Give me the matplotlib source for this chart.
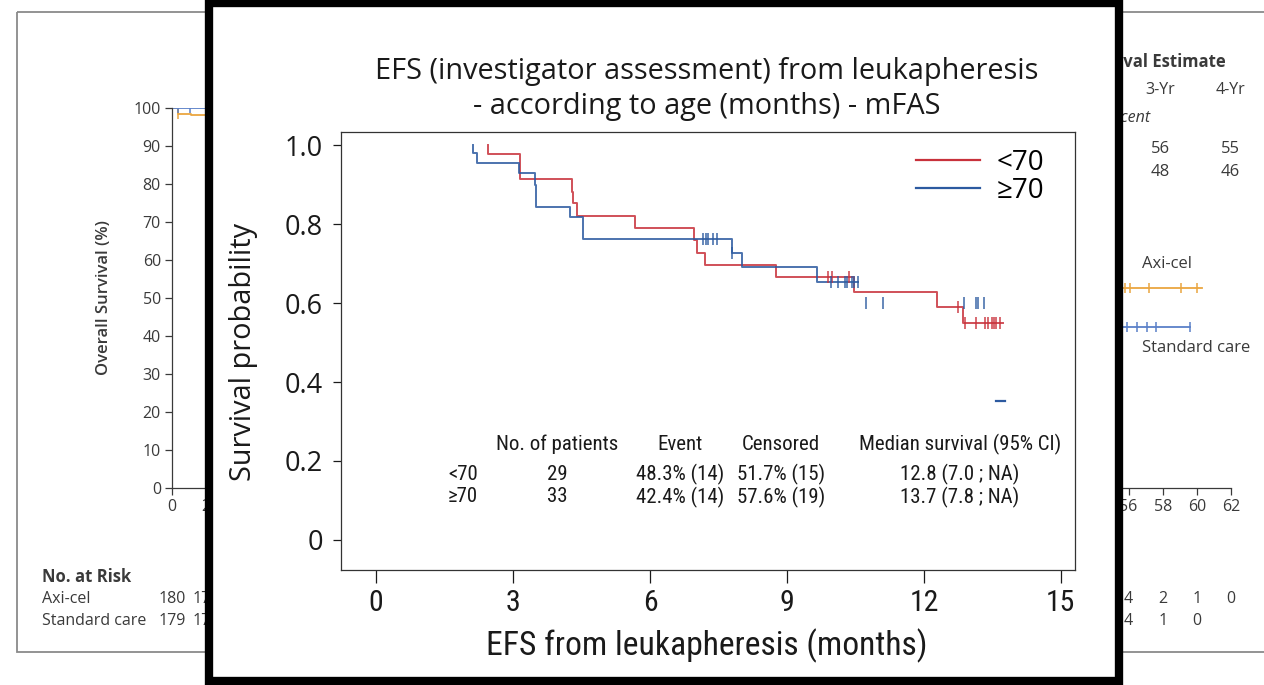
import matplotlib
matplotlib.use('Agg')
import matplotlib.pyplot as plt
import numpy as np
from matplotlib import font_manager as fm
from matplotlib.patches import Rectangle

W, H = 1264, 685

# background chart (overall survival, mostly hidden)
os_ticks_x = np.arange(0, 63, 2)
os_shown_x = [0, 2, 56, 58, 60, 62]
os_ticks_y = np.arange(0, 101, 10)
axi_t = [0, 0.35, 1.1, 6, 12, 18, 24, 30, 36, 42, 48, 54, 60.3]
axi_s = [100, 98.5, 98.2, 92, 82, 71, 63, 59, 56, 55, 54, 52.6, 52.6]
axi_cens = [0.35, 55.8, 56.1, 57.2, 59.1, 60.0]
soc_t = [0, 1.2, 6, 12, 18, 24, 30, 36, 42, 48, 54, 59.6]
soc_s = [100, 100, 90, 75, 62, 55, 50, 48, 47, 46, 42.4, 42.4]
soc_cens = [0.35, 1.05, 55.9, 56.5, 57.1, 57.6, 59.6]
risk_months = [0, 2, 56, 58, 60, 62]
risk_axi = ['180', '177', '4', '2', '1', '0']
risk_soc = ['179', '171', '4', '1', '0', '']
est_cols = ['3-Yr', '4-Yr']
est_axi = ['56', '55']
est_soc = ['48', '46']

# foreground chart (EFS by age)
red_t = [2.44, 2.44, 3.16, 4.28, 4.31, 4.41, 5.66, 6.96, 7.03, 7.20, 8.77, 10.47, 12.28, 12.86, 13.74]
red_s = [1.0, 0.977, 0.913, 0.882, 0.854, 0.821, 0.789, 0.759, 0.726, 0.696, 0.667, 0.629, 0.591, 0.550, 0.550]
red_cens = [9.90, 9.98, 10.36, 12.75, 12.90, 13.15, 13.33, 13.41, 13.50, 13.53, 13.57, 13.66]
blue_t = [2.12, 2.12, 2.20, 3.12, 3.47, 3.50, 4.25, 4.54, 7.79, 8.02, 9.65, 10.56]
blue_s = [1.0, 0.981, 0.954, 0.928, 0.899, 0.844, 0.817, 0.761, 0.726, 0.692, 0.654, 0.654]
blue_cens = [7.15, 7.22, 7.28, 7.39, 7.46, 7.80, 9.96, 10.12, 10.27, 10.31, 10.42, 10.47, 10.56]
blue_loose_t = [10.73, 11.10, 12.87, 13.15, 13.19, 13.32]
blue_loose_s = [0.599] * 6
blue_tail_t = [13.59, 13.77]
blue_tail_s = [0.352, 0.352]

groups = ['<70', '≥70']
table_cols = ['No. of patients', 'Event', 'Censored', 'Median survival (95% CI)']
table_rows = [['29', '48.3% (14)', '51.7% (15)', '12.8 (7.0 ; NA)'],
              ['33', '42.4% (14)', '57.6% (19)', '13.7 (7.8 ; NA)']]

RED = '#c8313b'
BLUE = '#2c5aa0'
ORANGE = '#eaa640'
SBLUE = '#5a80c8'


def narrow_font():
    for name in ['Liberation Sans Narrow', 'Roboto Condensed', 'Arial Narrow']:
        try:
            fm.findfont(fm.FontProperties(family=name), fallback_to_default=False)
            return name
        except ValueError:
            pass
    return 'Roboto'


NARROW = narrow_font()


def fx(x):
    return x / W


def fy(y):
    return 1 - y / H


def step_at(t, s, x):
    i = np.searchsorted(t, x, side='right') - 1
    return np.asarray(s)[i]


fig = plt.figure(figsize=(W / 100, H / 100), dpi=100)

# page with the background panel frame and texts
page = fig.add_axes([0, 0, 1, 1], zorder=0)
page.set_xlim(0, W)
page.set_ylim(H, 0)
page.axis('off')
page.add_patch(Rectangle((17, 12), 1300, 640, fill=False, ec='#8a8a8a', lw=1.3))
bg_font = dict(family='Open Sans', color='#3a3a3a')
page.text(104, 298, 'Overall Survival (%)', rotation=90, ha='center', va='center',
          fontsize=12, fontweight='semibold', **bg_font)
page.text(42, 577, 'No. at Risk', ha='left', va='center', fontsize=12, fontweight='bold', **bg_font)
page.text(42, 599, 'Axi-cel', ha='left', va='center', fontsize=11.5, **bg_font)
page.text(42, 621, 'Standard care', ha='left', va='center', fontsize=11.5, **bg_font)
for m, a, s in zip(risk_months, risk_axi, risk_soc):
    xp = 172 + m * 1059 / 62
    page.text(xp, 599, a, ha='center', va='center', fontsize=11.5, **bg_font)
    page.text(xp, 621, s, ha='center', va='center', fontsize=11.5, **bg_font)
page.text(1226, 62, 'Survival Estimate', ha='right', va='center', fontsize=12,
          fontweight='bold', **bg_font)
page.text(1150, 118, 'Percent', ha='right', va='center', fontsize=11.5, style='italic', **bg_font)
for xp, c, a, s in zip([1160, 1230], est_cols, est_axi, est_soc):
    page.text(xp, 90, c, ha='center', va='center', fontsize=11.5, **bg_font)
    page.text(xp, 149, a, ha='center', va='center', fontsize=12, **bg_font)
    page.text(xp, 172, s, ha='center', va='center', fontsize=12, **bg_font)
page.text(1142, 264, 'Axi-cel', ha='left', va='center', fontsize=12, **bg_font)
page.text(1142, 348, 'Standard care', ha='left', va='center', fontsize=12, **bg_font)

# background overall survival plot
bg = fig.add_axes([fx(172), fy(488), 1059 / W, 380 / H], zorder=0.5)
bg.patch.set_visible(False)
bg.step(axi_t, axi_s, where='post', color=ORANGE, lw=1.3)
bg.step(soc_t, soc_s, where='post', color=SBLUE, lw=1.3)
bg.plot(axi_cens, step_at(axi_t, axi_s, axi_cens), ls='none', marker='|', ms=7, mew=1.1, color=ORANGE)
bg.plot(soc_cens, step_at(soc_t, soc_s, soc_cens), ls='none', marker='|', ms=7, mew=1.1, color=SBLUE)
bg.set_xlim(0, 62)
bg.set_ylim(0, 100)
bg.set_xticks(os_ticks_x)
bg.set_xticklabels([str(t) if t in os_shown_x else '' for t in os_ticks_x])
bg.set_yticks(os_ticks_y)
bg.tick_params(direction='out', length=5, width=0.9, colors='#3a3a3a', labelsize=11.5, pad=3)
for lab in bg.get_xticklabels() + bg.get_yticklabels():
    lab.set_family('Open Sans')
for side in ['top', 'right']:
    bg.spines[side].set_visible(False)
for side in ['left', 'bottom']:
    bg.spines[side].set_color('#3a3a3a')
    bg.spines[side].set_linewidth(0.9)

# black-framed overlay box
box = fig.add_axes([0, 0, 1, 1], zorder=1)
box.set_xlim(0, W)
box.set_ylim(H, 0)
box.axis('off')
box.add_patch(Rectangle((209, 3), 910, 678, fc='white', ec='black', lw=6))
box.text(707, 71, 'EFS (investigator assessment) from leukapheresis', ha='center', va='center',
         fontsize=20.8, family='Open Sans', color='#1a1a1a')
box.text(707, 106, '- according to age (months) - mFAS', ha='center', va='center',
         fontsize=20.8, family='Open Sans', color='#1a1a1a')
box.text(243, 352, 'Survival probability', rotation=90, ha='center', va='center',
         fontsize=20.8, family='Open Sans', color='#1a1a1a')
box.text(707, 646, 'EFS from leukapheresis (months)', ha='center', va='center',
         fontsize=24.2, family=NARROW, color='#1a1a1a')

# foreground EFS plot
ax = fig.add_axes([fx(341), fy(570), 734 / W, 438 / H], zorder=2)
ax.step(red_t, red_s, where='post', color=RED, lw=1.4, alpha=0.85, label=groups[0])
ax.step(blue_t, blue_s, where='post', color=BLUE, lw=1.4, alpha=0.85, label=groups[1])
ax.plot(red_cens, step_at(red_t, red_s, red_cens), ls='none', marker='|', ms=8, mew=1.2, color=RED, alpha=0.85)
ax.plot(blue_cens, step_at(blue_t, blue_s, blue_cens), ls='none', marker='|', ms=8, mew=1.2, color=BLUE, alpha=0.85)
ax.plot(blue_loose_t, blue_loose_s, ls='none', marker='|', ms=8, mew=1.2, color=BLUE, alpha=0.85)
ax.plot(blue_tail_t, blue_tail_s, color=BLUE, lw=1.6)
ax.set_xlim(-0.77, 15.31)
ax.set_ylim(-0.076, 1.033)
ax.set_xticks([0, 3, 6, 9, 12, 15])
ax.set_yticks([0, 0.2, 0.4, 0.6, 0.8, 1.0])
ax.set_yticklabels(['0', '0.2', '0.4', '0.6', '0.8', '1.0'], family='Open Sans', fontsize=19.5)
ax.set_xticklabels(['0', '3', '6', '9', '12', '15'], family=NARROW, fontsize=21.5)
ax.tick_params(axis='y', direction='out', length=6, width=0.9, pad=7, colors='#1a1a1a')
ax.tick_params(axis='x', direction='out', length=9, width=0.9, pad=5, colors='#1a1a1a')
for side in ax.spines:
    ax.spines[side].set_color('#333333')
    ax.spines[side].set_linewidth(0.9)

leg = ax.legend(loc='upper left', bbox_to_anchor=(fx(916), fy(149)), bbox_transform=fig.transFigure,
                frameon=False, borderpad=0, borderaxespad=0, handlelength=2.3, handletextpad=0.6,
                labelspacing=0.0, prop={'family': 'Open Sans', 'size': 20})
for line in leg.get_lines():
    line.set_alpha(1)
    line.set_linewidth(1.6)

# summary table inside the plot
tfont = dict(family=NARROW, fontsize=15, color='#1a1a1a', transform=fig.transFigure)
col_x = [557, 680, 781, 960]
for cx, head in zip(col_x, table_cols):
    ax.text(fx(cx), fy(444), head, ha='center', va='center', **tfont)
for ry, g, row in zip([474, 497], groups, table_rows):
    ax.text(fx(448), fy(ry), g, ha='left', va='center', **tfont)
    for cx, val in zip(col_x, row):
        ax.text(fx(cx), fy(ry), val, ha='center', va='center', **tfont)

fig.savefig('out.png', dpi=100)
